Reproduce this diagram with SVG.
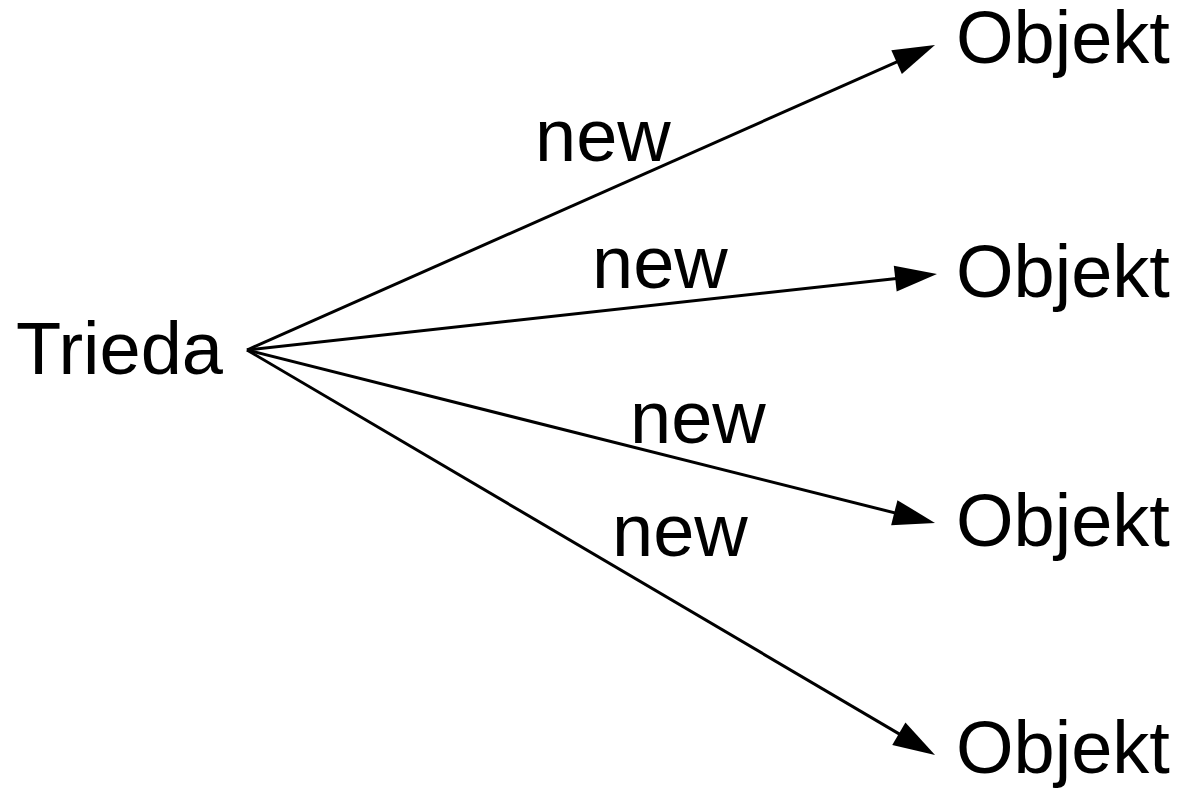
<svg xmlns="http://www.w3.org/2000/svg" width="1180" height="788" viewBox="0 0 1180 788">
  <style>
    .label { font-family: "Liberation Sans", Arial, sans-serif; font-size: 74px; fill: #000; }
    .edge { stroke: #000; stroke-width: 3; fill: none; marker-end: url(#arrow); }
  </style>
  <defs>
    <marker id="arrow" markerUnits="userSpaceOnUse" viewBox="-22 -14 43 28" markerWidth="43" markerHeight="28" refX="0" refY="0" orient="auto" overflow="visible">
      <path d="M20,0 L-22,-13 L-22,13 Z" fill="#000"/>
    </marker>
  </defs>
  <rect width="1180" height="788" fill="#fff"/>

  <!-- connectors: class to each instance -->
  <g id="connectors">
    <line class="edge" x1="247" y1="350" x2="916.7" y2="53.1"/>
    <line class="edge" x1="247" y1="350" x2="917.1" y2="276.2"/>
    <line class="edge" x1="247" y1="350" x2="915.6" y2="518.1"/>
    <line class="edge" x1="247" y1="350" x2="917.8" y2="744.9"/>
    <text class="label" x="535" y="161">new</text>
    <text class="label" x="592" y="288">new</text>
    <text class="label" x="630" y="443">new</text>
    <text class="label" x="612" y="556">new</text>
  </g>

  <g id="trieda">
    <text class="label" x="16" y="374">Trieda</text>
  </g>
  <g id="objekt1">
    <text class="label" x="956" y="63">Objekt</text>
  </g>
  <g id="objekt2">
    <text class="label" x="956" y="297">Objekt</text>
  </g>
  <g id="objekt3">
    <text class="label" x="956" y="546">Objekt</text>
  </g>
  <g id="objekt4">
    <text class="label" x="956" y="773">Objekt</text>
  </g>
</svg>
